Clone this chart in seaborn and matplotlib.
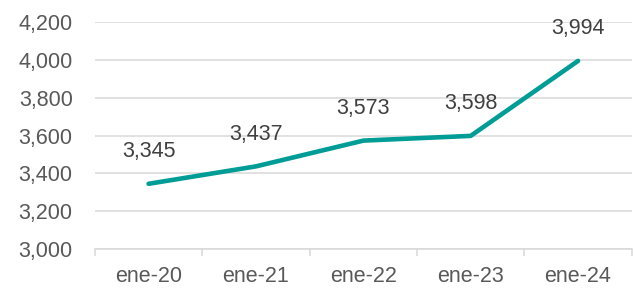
import seaborn as sns
import pandas as pd
import matplotlib.pyplot as plt
import matplotlib.ticker as tkr

periods = ["ene-20", "ene-21", "ene-22", "ene-23", "ene-24"]
values = [3345, 3437, 3573, 3598, 3994]

df = pd.DataFrame({"periodo": periods, "valor": values})

sns.set_theme(style="white")
plt.rcParams["font.family"] = ["Liberation Sans", "DejaVu Sans"]

fig = plt.figure(figsize=(6.33, 2.88), dpi=100)
ax = fig.add_axes([0.150, 0.135, 0.848, 0.789])

sns.lineplot(x="periodo", y="valor", data=df, ax=ax, color="#009C96",
             linewidth=3.3, solid_capstyle="round", solid_joinstyle="round")

for i, v in enumerate(values):
    ax.annotate(f"{v:,}", (i, v), xytext=(0, 23), textcoords="offset points",
                ha="center", va="center", fontsize=15.5, color="#404040")

ax.set_ylim(3000, 4200)
ax.set_xlim(-0.5, len(periods) - 0.5)
ax.yaxis.set_major_locator(tkr.MultipleLocator(200))
ax.yaxis.set_major_formatter(tkr.FuncFormatter(lambda x, p: f"{x:,.0f}"))
ax.grid(axis="y", color="#D9D9D9", linewidth=1.1)
ax.set_axisbelow(True)

ax.xaxis.set_minor_locator(tkr.FixedLocator([i - 0.5 for i in range(len(periods) + 1)]))
ax.tick_params(axis="x", which="major", length=0, pad=12, labelsize=15.5, labelcolor="#595959")
ax.tick_params(axis="x", which="minor", length=5, color="#D9D9D9", width=1.1, bottom=True)
ax.tick_params(axis="y", length=0, pad=16, labelsize=15.5, labelcolor="#595959")

for s in ["top", "right", "left"]:
    ax.spines[s].set_visible(False)
ax.spines["bottom"].set_color("#D9D9D9")
ax.spines["bottom"].set_linewidth(1.1)

ax.set_xlabel("")
ax.set_ylabel("")

fig.savefig("out.png", dpi=100)
